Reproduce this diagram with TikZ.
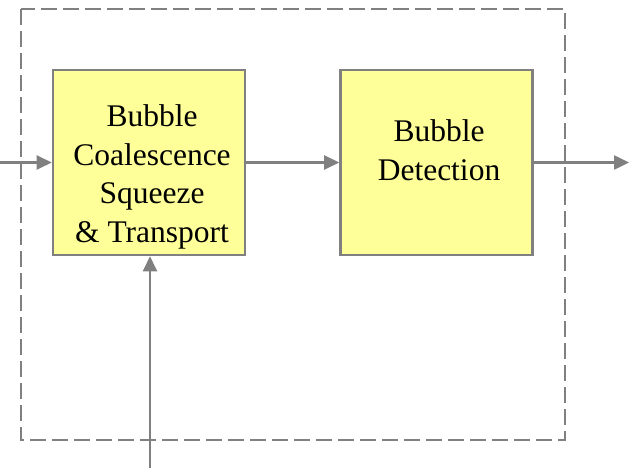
\documentclass[tikz,border=0pt]{standalone}
\usepackage{fontspec}
\setmainfont{Liberation Serif}
\usetikzlibrary{arrows.meta}
\definecolor{linegray}{HTML}{808080}
\definecolor{boxyellow}{HTML}{FFFF99}
\tikzset{
  blockbox/.style={draw=linegray, line width=2.6pt, fill=boxyellow, minimum width=192pt, minimum height=185pt, inner sep=0pt},
  blocktext/.style={anchor=base, inner sep=0pt, font=\fontsize{31.5}{38.5}\selectfont},
  flow/.style={draw=linegray, line width=2.5pt, -{Triangle[length=15pt, width=14pt]}},
  frame/.style={draw=linegray, line width=2.4pt, dash pattern=on 16pt off 6pt}
}
\begin{document}
\begin{tikzpicture}[x=1pt, y=-1pt]
  \useasboundingbox (0,0) rectangle (629,468);
  \coordinate (fa) at (21,9);
  \coordinate (fb) at (565,440);
  \draw[frame] (fa) rectangle (fb);
  \node[blockbox] (b1) at (149,162.5) {};
  \node[blockbox] (b2) at (436.5,162.5) {};
  \node[blocktext] (t1) at (152,127) {\begin{tabular}[t]{@{}c@{}}Bubble\\Coalescence\\Squeeze\\\&\ Transport\end{tabular}};
  \node[blocktext] (t2) at (439,142) {\begin{tabular}[t]{@{}c@{}}Bubble\\Detection\end{tabular}};
  \coordinate (in) at (0,162.5);
  \coordinate (out) at (629,162.5);
  \coordinate (bot) at (150,468);
  \draw[flow] (in) -- (b1.west);
  \draw[flow] (b1.east) -- (b2.west);
  \draw[flow] (b2.east) -- (out);
  \draw[flow] (bot) -- (bot |- b1.south);
\end{tikzpicture}
\end{document}
